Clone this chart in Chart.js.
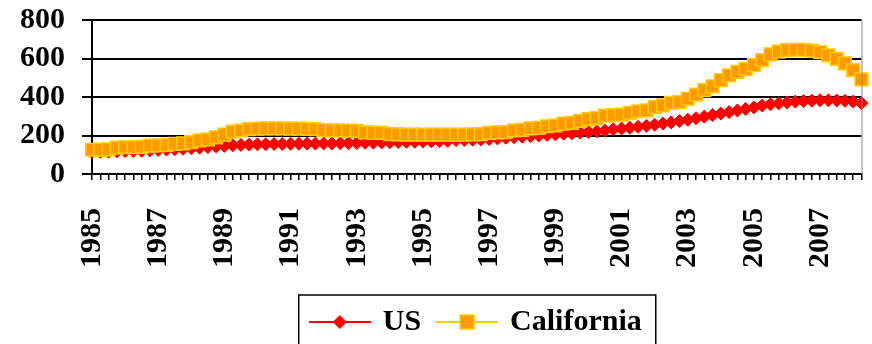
<!DOCTYPE html>
<html>
<head>
<meta charset="utf-8">
<script src="https://cdn.jsdelivr.net/npm/chart.js@4"></script>
<style>
  html, body { margin: 0; padding: 0; background: #fff; overflow: hidden; }
  #wrap { position: relative; width: 872px; height: 347px; }
</style>
</head>
<body>
<div id="wrap"><canvas id="chart"></canvas></div>
<script>
// quarterly index values, 1985 Q1 .. 2008 Q2
const years = [1985, 1986, 1987, 1988, 1989, 1990, 1991, 1992, 1993, 1994, 1995, 1996,
  1997, 1998, 1999, 2000, 2001, 2002, 2003, 2004, 2005, 2006, 2007, 2008];
const quarters = ['Q1', 'Q2', 'Q3', 'Q4'];

const usValues = [
  114, 115, 116, 117, 119, 120, 121, 123, 125, 127,
  129, 131, 134, 137, 140, 143, 146, 149, 151, 153,
  154, 155, 156, 156, 157, 157, 158, 158, 159, 159,
  160, 160, 161, 162, 163, 164, 165, 166, 167, 168,
  169, 170, 171, 172, 176, 177, 178, 179, 182, 185,
  188, 191, 194, 197, 200, 203, 206, 209, 212, 215,
  218, 221, 225, 232, 236, 240, 245, 250, 256, 262,
  268, 275, 282, 290, 298, 306, 314, 322, 330, 338,
  346, 356, 362, 367, 372, 376, 379, 381, 383, 383,
  382, 380, 376, 368
];
const caValues = [
  126, 127, 128, 137, 139, 140, 141, 147, 149, 151,
  157, 159, 166, 175, 180, 190, 205, 220, 226, 233,
  236, 237, 237, 237, 236, 236, 235, 233, 228, 227,
  226, 225, 224, 216, 215, 214, 207, 206, 205, 205,
  204, 204, 204, 204, 205, 205, 206, 207, 214, 216,
  217, 227, 229, 237, 240, 248, 252, 262, 266, 276,
  285, 290, 303, 306, 308, 317, 326, 330, 347, 357,
  370, 374, 392, 413, 436, 455, 488, 512, 530, 545,
  566, 592, 622, 636, 643, 645, 645, 641, 633, 616,
  598, 575, 540, 492
];
const yTicks = [0, 200, 400, 600, 800];

const categories = [];
years.forEach(y => quarters.forEach(q => categories.push(y + ' ' + q)));
categories.length = usValues.length;

const font = { family: 'Liberation Serif', weight: 'bold', size: 30 };

function legendIcon(kind) {
  const c = document.createElement('canvas');
  c.width = 62; c.height = 18;
  const g = c.getContext('2d');
  g.lineWidth = 2;
  g.strokeStyle = kind === 'us' ? '#ff0000' : '#ffcc00';
  g.beginPath(); g.moveTo(0, 9); g.lineTo(62, 9); g.stroke();
  if (kind === 'us') {
    g.fillStyle = '#ff0000';
    g.beginPath();
    g.moveTo(31, 2); g.lineTo(38, 9); g.lineTo(31, 16); g.lineTo(24, 9);
    g.closePath(); g.fill();
  } else {
    g.fillStyle = '#ff9900';
    g.fillRect(24, 2, 14, 14);
    g.lineWidth = 1.5;
    g.strokeRect(24, 2, 14, 14);
  }
  return c;
}

const extras = {
  id: 'extras',
  afterDraw(chart) {
    const ctx = chart.ctx;
    const a = chart.chartArea;
    ctx.save();
    // plot edge on the right
    ctx.strokeStyle = '#888';
    ctx.lineWidth = 1;
    ctx.beginPath();
    ctx.moveTo(a.right + 0.5, a.top);
    ctx.lineTo(a.right + 0.5, a.bottom);
    ctx.stroke();
    // legend frame
    const hb = chart.legend.legendHitBoxes;
    if (hb && hb.length) {
      const first = hb[0], last = hb[hb.length - 1];
      const x0 = first.left - 13;
      const x1 = last.left + last.width + 14;
      const y0 = first.top - 12;
      ctx.strokeStyle = '#000';
      ctx.lineWidth = 1.5;
      ctx.strokeRect(x0, y0, x1 - x0, first.height + 24);
    }
    ctx.restore();
  }
};

new Chart(document.getElementById('chart'), {
  type: 'line',
  data: {
    labels: categories,
    datasets: [
      {
        label: 'US',
        data: usValues,
        order: 2,
        borderColor: '#ff0000',
        backgroundColor: '#ff0000',
        borderWidth: 2,
        pointStyle: 'rectRot',
        pointRadius: 6.5,
        pointBackgroundColor: '#ff0000',
        pointBorderColor: '#ff0000',
        pointBorderWidth: 1
      },
      {
        label: 'California',
        data: caValues,
        order: 1,
        borderColor: '#ffcc00',
        backgroundColor: '#ff9900',
        borderWidth: 2,
        pointStyle: 'rect',
        pointRadius: 9,
        pointBackgroundColor: '#ff9900',
        pointBorderColor: '#ffcc00',
        pointBorderWidth: 1.5
      }
    ]
  },
  options: {
    responsive: true,
    maintainAspectRatio: false,
    animation: false,
    layout: { padding: { top: 20, right: 2, left: 0, bottom: 0 } },
    plugins: {
      tooltip: { enabled: false },
      legend: {
        position: 'bottom',
        fullSize: false,
        labels: {
          usePointStyle: true,
          pointStyleWidth: 56,
          padding: 18,
          color: '#000',
          font: font,
          generateLabels: () => [
            { text: 'US', pointStyle: legendIcon('us'), datasetIndex: 0, lineWidth: 0, hidden: false, fontColor: '#000' },
            { text: 'California', pointStyle: legendIcon('ca'), datasetIndex: 1, lineWidth: 0, hidden: false, fontColor: '#000' }
          ]
        }
      }
    },
    scales: {
      x: {
        offset: false,
        grid: { drawOnChartArea: false, drawTicks: true, tickLength: 6, color: '#000', lineWidth: 1.5 },
        border: { color: '#000', width: 2 },
        ticks: {
          autoSkip: false,
          minRotation: 90,
          maxRotation: 90,
          padding: 28,
          color: '#000',
          font: font,
          callback: (v, i) => i % 8 === 0 ? categories[i].slice(0, 4) : ''
        },
        afterFit: s => { s.height = 115; s.paddingLeft = 0; s.paddingRight = 0; }
      },
      y: {
        min: 0,
        max: 800,
        afterBuildTicks: s => { s.ticks = yTicks.map(v => ({ value: v })); },
        grid: { color: '#000', lineWidth: 2, tickLength: 10 },
        border: { color: '#000', width: 2 },
        ticks: { autoSkip: false, padding: 17, color: '#000', font: font },
        afterFit: s => { s.width = 92; s.paddingTop = 0; }
      }
    }
  },
  plugins: [extras]
});
</script>
</body>
</html>
